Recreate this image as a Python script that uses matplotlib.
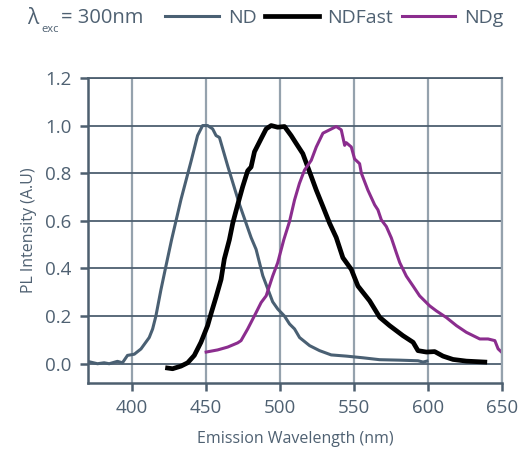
import matplotlib.pyplot as plt

plt.rcParams["font.family"] = ["Open Sans", "DejaVu Sans"]

txt = "#4f6172"
hgrid = "#4d5f6f"
vgrid = "#95a2ad"

# ND
nd_x = [369.7, 376.5, 381, 384.4, 390, 393.4, 396.8, 401.4, 405.9, 411.5, 413.8, 416, 419.4,
        422.8, 426.6, 433, 439.8, 444.2, 447.6, 451, 454.4, 456.7, 459, 464.6, 472.5, 480.4,
        483.8, 488.3, 495, 498.4, 503, 506.4, 509.8, 513.2, 520, 526.7, 534.6, 544.8, 556,
        567.3, 580.9, 593.3, 596.7, 599.4]
nd_y = [0.01, 0.0, 0.004, 0.0, 0.01, 0.004, 0.035, 0.04, 0.062, 0.11, 0.146, 0.2, 0.31,
        0.41, 0.52, 0.69, 0.85, 0.958, 1.0, 1.0, 0.986, 0.958, 0.95, 0.83, 0.67, 0.53,
        0.48, 0.37, 0.26, 0.23, 0.2, 0.167, 0.146, 0.11, 0.076, 0.055, 0.037, 0.032, 0.025,
        0.017, 0.015, 0.0125, 0.007, 0.011]

# NDFast
fast_x = [423.9, 427.3, 433, 437.5, 442, 446.5, 451, 453.3, 456.7, 460.1, 462.3, 465.7, 468,
          471.3, 474.7, 478.1, 480.4, 482.7, 487.2, 490.6, 494, 498.4, 503, 507.5, 511, 515.4,
          520, 524.5, 529, 533.5, 538, 542.5, 548.2, 552.7, 560.6, 567.4, 574.1, 583.1, 590,
          593.3, 599, 604.6, 610.2, 617, 626, 638.5]
fast_y = [-0.018, -0.021, -0.01, 0.004, 0.035, 0.09, 0.16, 0.21, 0.28, 0.354, 0.44, 0.52, 0.59,
          0.667, 0.743, 0.81, 0.826, 0.89, 0.945, 0.986, 1.0, 0.993, 0.996, 0.958, 0.924, 0.882,
          0.805, 0.729, 0.66, 0.59, 0.53, 0.445, 0.396, 0.326, 0.264, 0.195, 0.16, 0.118, 0.09,
          0.055, 0.049, 0.051, 0.032, 0.018, 0.011, 0.007]

# NDg
g_x = [450, 457.8, 464.6, 471.3, 473.6, 478.1, 483.8, 487.2, 490.6, 495, 498.4, 502.5, 506.4,
       509.8, 513.1, 516.5, 521.1, 524.5, 529, 533.5, 538, 541.4, 543.7, 544.8, 548.2, 550.4,
       553.8, 555, 559.4, 564, 566.2, 568.5, 571.9, 575.3, 578.7, 581, 585.4, 590, 594.4,
       601.2, 605.7, 612.5, 619.3, 626, 635.1, 640.7, 645.3, 647.5, 649.8]
g_y = [0.049, 0.058, 0.07, 0.0875, 0.097, 0.146, 0.215, 0.257, 0.285, 0.368, 0.424, 0.52, 0.597,
       0.6875, 0.757, 0.8125, 0.854, 0.91, 0.968, 0.982, 0.996, 0.982, 0.917, 0.928, 0.91, 0.86,
       0.84, 0.8, 0.729, 0.667, 0.646, 0.604, 0.576, 0.528, 0.465, 0.424, 0.368, 0.326, 0.285,
       0.243, 0.222, 0.194, 0.16, 0.132, 0.104, 0.104, 0.097, 0.0625, 0.049]

x_ticks = [400, 450, 500, 550, 600, 650]
y_ticks = [0.0, 0.2, 0.4, 0.6, 0.8, 1.0, 1.2]

fig = plt.figure(figsize=(5.2, 4.53), dpi=100)
ax = fig.add_axes([0.169, 0.155, 0.796, 0.673])

l1, = ax.plot(nd_x, nd_y, color="#4a6073", lw=2.2, label="ND")
l2, = ax.plot(fast_x, fast_y, color="black", lw=3.4, label="NDFast")
l3, = ax.plot(g_x, g_y, color="#8b2d8e", lw=2.2, label="NDg")

ax.set_xlim(370, 650)
ax.set_ylim(-0.08, 1.2)
ax.set_xticks(x_ticks)
ax.set_yticks(y_ticks)
ax.set_yticklabels(["%.1f" % v for v in y_ticks])
ax.xaxis.grid(True, color=vgrid, lw=1.6)
ax.yaxis.grid(True, color=hgrid, lw=1.3)
ax.set_axisbelow(True)

for s in ["left", "bottom"]:
    ax.spines[s].set_color(hgrid)
    ax.spines[s].set_linewidth(1.8)
ax.spines["top"].set_color(hgrid)
ax.spines["top"].set_linewidth(1.3)
ax.spines["right"].set_color(vgrid)
ax.spines["right"].set_linewidth(1.6)

ax.tick_params(axis="both", colors=hgrid, labelcolor=txt, labelsize=13.5, length=6, width=1.8)
ax.tick_params(axis="x", pad=6)
ax.tick_params(axis="y", pad=6)

ax.set_xlabel("Emission Wavelength (nm)", color=txt, fontsize=11.5, labelpad=10)
ax.set_ylabel("PL Intensity (A.U)", color=txt, fontsize=11.5, labelpad=6)

fig.text(0.052, 0.96, "λ", color=txt, fontsize=15, va="center", ha="left")
fig.text(0.079, 0.935, "exc", color=txt, fontsize=8, va="center", ha="left")
fig.text(0.118, 0.96, "= 300nm", color=txt, fontsize=14.5, va="center", ha="left")
fig.legend(handles=[l1, l2, l3], ncol=3, loc="center right", bbox_to_anchor=(0.968, 0.96),
           frameon=False, fontsize=14, labelcolor=txt, handlelength=2.75,
           handletextpad=0.45, columnspacing=0.45, borderaxespad=0, borderpad=0)

fig.savefig("out.png", dpi=100)
plt.close(fig)
